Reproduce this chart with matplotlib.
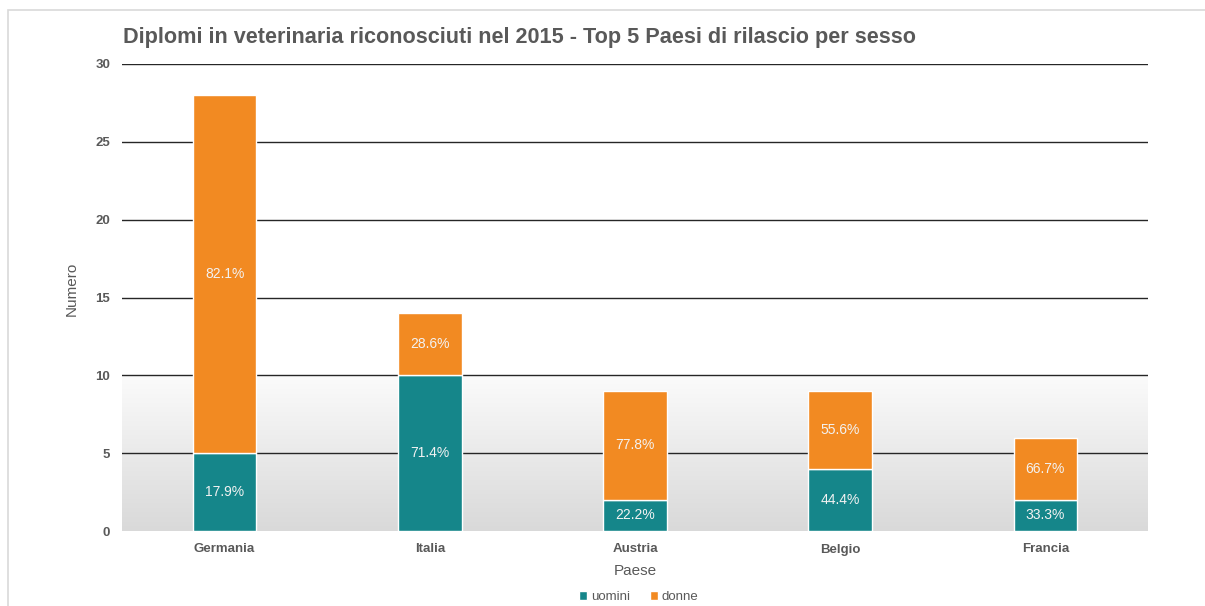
import matplotlib
matplotlib.use("Agg")
import matplotlib.pyplot as plt
import numpy as np
from matplotlib.patches import Rectangle
from matplotlib.colors import LinearSegmentedColormap

categories = ["Germania", "Italia", "Austria", "Belgio", "Francia"]
uomini = [5, 10, 2, 4, 2]
donne = [23, 4, 7, 5, 4]
uomini_pct = ["17.9%", "71.4%", "22.2%", "44.4%", "33.3%"]
donne_pct = ["82.1%", "28.6%", "77.8%", "55.6%", "66.7%"]
yticks = [0, 5, 10, 15, 20, 25, 30]

teal = "#15868a"
orange = "#f28a22"
gray = "#595959"

plt.rcParams['font.family'] = ['Liberation Sans', 'DejaVu Sans']

fig = plt.figure(figsize=(12.05, 6.06), dpi=100)
# outer chart border (only top and left visible, cropped screenshot)
fig.patches.append(Rectangle((8/1205, -0.1), 1.2, 1.1 - 10/606, transform=fig.transFigure,
                             fill=False, edgecolor="#d9d9d9", linewidth=1.2, clip_on=False))
ax = fig.add_axes([122/1205, 1 - 531/606, (1148 - 122)/1205, (531 - 64)/606])

x = np.arange(len(categories))
ax.set_xlim(-0.5, 4.5)
ax.set_ylim(0, 30)

# gradient background 0..10
grad = np.linspace(0, 1, 256).reshape(-1, 1)
cmap = LinearSegmentedColormap.from_list("g", ["#d9d9d9", "#fbfbfb"])
ax.imshow(grad, aspect="auto", cmap=cmap, extent=(-0.5, 4.5, 0, 10), origin="lower", zorder=0)

for yv in yticks[1:]:
    ax.axhline(yv, color="#262626", linewidth=1.0, zorder=1)

w = 0.31
b1 = ax.bar(x, uomini, width=w, color=teal, edgecolor="white", linewidth=1.0, zorder=2, label="uomini")
b2 = ax.bar(x, donne, width=w, bottom=uomini, color=orange, edgecolor="white", linewidth=1.0, zorder=2, label="donne")

for i in range(len(categories)):
    ax.text(x[i], uomini[i] / 2, uomini_pct[i], ha="center", va="center", color="#f2f2f2", fontsize=10, zorder=3)
    ax.text(x[i], uomini[i] + donne[i] / 2, donne_pct[i], ha="center", va="center", color="#f2f2f2", fontsize=10, zorder=3)

ax.set_xticks(x)
ax.set_xticklabels(categories, fontweight="bold", color=gray, fontsize=9.5)
ax.set_yticks(yticks)
ax.set_yticklabels([str(v) for v in yticks], fontweight="bold", color=gray, fontsize=9.5)
ax.tick_params(axis="both", length=0)
ax.tick_params(axis="x", pad=9)
ax.tick_params(axis="y", pad=8.5)
for s in ax.spines.values():
    s.set_visible(False)

ax.set_ylabel("Numero", color=gray, fontsize=11)
ax.yaxis.set_label_coords(-0.042, 0.518)
ax.set_xlabel("Paese", color=gray, fontsize=11, labelpad=6)

fig.text(123/1205, 1 - 37/606, "Diplomi in veterinaria riconosciuti nel 2015 - Top 5 Paesi di rilascio per sesso",
         fontsize=15.6, fontweight="bold", color=gray, ha="left", va="center")

leg = fig.legend(handles=[b1, b2], labels=["uomini", "donne"], loc="center", bbox_to_anchor=(0.53, 1 - 597/606),
                 ncol=2, frameon=False, fontsize=9.5, handlelength=0.6, handleheight=0.6,
                 handletextpad=0.3, columnspacing=1.5, labelcolor=gray)

fig.savefig("out.png", dpi=100)
